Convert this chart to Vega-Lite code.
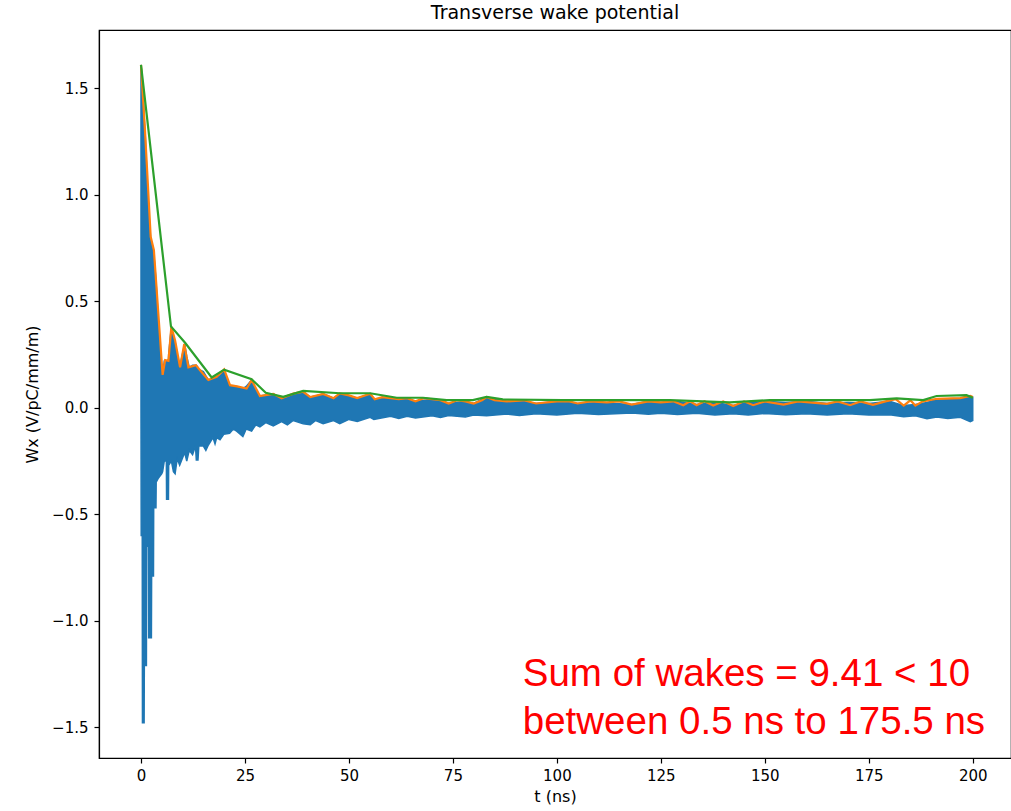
{
  "$schema": "https://vega.github.io/schema/vega-lite/v6.json",
  "width": 912,
  "height": 728,
  "autosize": "none",
  "padding": {"left": 99, "top": 30, "right": 0, "bottom": 53},
  "background": "white",
  "title": {"text": "Transverse wake potential", "font": "DejaVu Sans", "fontSize": 19, "fontWeight": "normal", "color": "black", "offset": 7},
  "datasets": {
    "blue": [
      {"t": 0.0, "hi": 1.61, "lo": 0.0},
      {"t": 0.05, "hi": 1.6, "lo": -0.6},
      {"t": 0.3, "hi": 1.55, "lo": -0.6},
      {"t": 0.35, "hi": 1.52, "lo": -1.48},
      {"t": 0.75, "hi": 1.38, "lo": -1.48},
      {"t": 0.8, "hi": 1.35, "lo": -1.21},
      {"t": 1.0, "hi": 1.29, "lo": -1.21},
      {"t": 1.3, "hi": 1.15, "lo": -1.21},
      {"t": 1.35, "hi": 1.12, "lo": -0.65},
      {"t": 1.8, "hi": 0.95, "lo": -0.65},
      {"t": 1.85, "hi": 0.93, "lo": -1.08},
      {"t": 2.3, "hi": 0.8, "lo": -1.08},
      {"t": 2.5, "hi": 0.78, "lo": -1.08},
      {"t": 2.55, "hi": 0.77, "lo": -0.79},
      {"t": 3.0, "hi": 0.74, "lo": -0.79},
      {"t": 3.05, "hi": 0.73, "lo": -0.47},
      {"t": 3.6, "hi": 0.6, "lo": -0.47},
      {"t": 3.65, "hi": 0.58, "lo": -0.35},
      {"t": 4.2, "hi": 0.4, "lo": -0.33},
      {"t": 5.0, "hi": 0.16, "lo": -0.31},
      {"t": 5.2, "hi": 0.15, "lo": -0.3},
      {"t": 5.6, "hi": 0.22, "lo": -0.25},
      {"t": 6.1, "hi": 0.22, "lo": -0.25},
      {"t": 6.15, "hi": 0.22, "lo": -0.43},
      {"t": 6.6, "hi": 0.22, "lo": -0.43},
      {"t": 6.65, "hi": 0.25, "lo": -0.27},
      {"t": 7.3, "hi": 0.38, "lo": -0.25},
      {"t": 7.8, "hi": 0.33, "lo": -0.3},
      {"t": 8.2, "hi": 0.31, "lo": -0.31},
      {"t": 8.7, "hi": 0.25, "lo": -0.24},
      {"t": 9.3, "hi": 0.19, "lo": -0.27},
      {"t": 10.5, "hi": 0.3, "lo": -0.21},
      {"t": 11.0, "hi": 0.24, "lo": -0.25},
      {"t": 11.6, "hi": 0.19, "lo": -0.2},
      {"t": 12.4, "hi": 0.2, "lo": -0.22},
      {"t": 13.1, "hi": 0.2, "lo": -0.18},
      {"t": 13.3, "hi": 0.2, "lo": -0.245},
      {"t": 13.7, "hi": 0.19, "lo": -0.245},
      {"t": 13.9, "hi": 0.18, "lo": -0.18},
      {"t": 15.0, "hi": 0.17, "lo": -0.18},
      {"t": 15.6, "hi": 0.15, "lo": -0.2},
      {"t": 16.2, "hi": 0.13, "lo": -0.175},
      {"t": 17.3, "hi": 0.14, "lo": -0.14},
      {"t": 17.8, "hi": 0.14, "lo": -0.17},
      {"t": 18.2, "hi": 0.145, "lo": -0.14},
      {"t": 19.0, "hi": 0.15, "lo": -0.15},
      {"t": 19.9, "hi": 0.17, "lo": -0.125},
      {"t": 21.3, "hi": 0.105, "lo": -0.12},
      {"t": 22.2, "hi": 0.1, "lo": -0.1},
      {"t": 23.0, "hi": 0.1, "lo": -0.11},
      {"t": 24.5, "hi": 0.09, "lo": -0.135},
      {"t": 25.3, "hi": 0.1, "lo": -0.1},
      {"t": 26.6, "hi": 0.13, "lo": -0.11},
      {"t": 27.6, "hi": 0.08, "lo": -0.08},
      {"t": 28.6, "hi": 0.055, "lo": -0.09},
      {"t": 30.0, "hi": 0.06, "lo": -0.07},
      {"t": 31.8, "hi": 0.065, "lo": -0.085},
      {"t": 33.8, "hi": 0.044, "lo": -0.065},
      {"t": 35.2, "hi": 0.05, "lo": -0.08},
      {"t": 36.6, "hi": 0.066, "lo": -0.06},
      {"t": 39.0, "hi": 0.075, "lo": -0.075},
      {"t": 40.7, "hi": 0.05, "lo": -0.08},
      {"t": 42.0, "hi": 0.055, "lo": -0.06},
      {"t": 43.8, "hi": 0.065, "lo": -0.075},
      {"t": 46.3, "hi": 0.045, "lo": -0.06},
      {"t": 47.8, "hi": 0.065, "lo": -0.075},
      {"t": 50, "hi": 0.055, "lo": -0.055},
      {"t": 52, "hi": 0.045, "lo": -0.065},
      {"t": 55.1, "hi": 0.065, "lo": -0.045},
      {"t": 56, "hi": 0.04, "lo": -0.055},
      {"t": 60, "hi": 0.045, "lo": -0.04},
      {"t": 62, "hi": 0.04, "lo": -0.05},
      {"t": 64, "hi": 0.045, "lo": -0.04},
      {"t": 66, "hi": 0.03, "lo": -0.048},
      {"t": 70, "hi": 0.04, "lo": -0.038},
      {"t": 72, "hi": 0.035, "lo": -0.046},
      {"t": 74, "hi": 0.02, "lo": -0.036},
      {"t": 78, "hi": 0.03, "lo": -0.044},
      {"t": 80, "hi": 0.02, "lo": -0.034},
      {"t": 83.1, "hi": 0.05, "lo": -0.038},
      {"t": 88, "hi": 0.03, "lo": -0.03},
      {"t": 91, "hi": 0.035, "lo": -0.036},
      {"t": 95, "hi": 0.02, "lo": -0.028},
      {"t": 100, "hi": 0.03, "lo": -0.034},
      {"t": 105, "hi": 0.02, "lo": -0.026},
      {"t": 110, "hi": 0.025, "lo": -0.032},
      {"t": 118, "hi": 0.015, "lo": -0.025},
      {"t": 122, "hi": 0.03, "lo": -0.031},
      {"t": 125, "hi": 0.025, "lo": -0.026},
      {"t": 129, "hi": 0.03, "lo": -0.032},
      {"t": 133.6, "hi": 0.015, "lo": -0.026},
      {"t": 138, "hi": 0.025, "lo": -0.034},
      {"t": 142.4, "hi": 0.01, "lo": -0.028},
      {"t": 146, "hi": 0.025, "lo": -0.034},
      {"t": 150, "hi": 0.03, "lo": -0.027},
      {"t": 155, "hi": 0.025, "lo": -0.033},
      {"t": 160, "hi": 0.03, "lo": -0.028},
      {"t": 165, "hi": 0.02, "lo": -0.034},
      {"t": 170, "hi": 0.025, "lo": -0.028},
      {"t": 175, "hi": 0.02, "lo": -0.034},
      {"t": 180, "hi": 0.03, "lo": -0.033},
      {"t": 183.4, "hi": 0.01, "lo": -0.042},
      {"t": 186.2, "hi": 0.015, "lo": -0.038},
      {"t": 189, "hi": 0.025, "lo": -0.052},
      {"t": 191.4, "hi": 0.04, "lo": -0.044},
      {"t": 194, "hi": 0.042, "lo": -0.05},
      {"t": 197, "hi": 0.045, "lo": -0.045},
      {"t": 199.4, "hi": 0.055, "lo": -0.066},
      {"t": 200, "hi": 0.05, "lo": -0.06}
    ],
    "orange": [
      {"t": 0.0, "y": 1.61},
      {"t": 0.96, "y": 1.3},
      {"t": 2.33, "y": 0.803},
      {"t": 3.1, "y": 0.74},
      {"t": 5.2, "y": 0.154},
      {"t": 5.8, "y": 0.224},
      {"t": 6.6, "y": 0.22},
      {"t": 7.3, "y": 0.38},
      {"t": 8.2, "y": 0.316},
      {"t": 9.4, "y": 0.19},
      {"t": 10.4, "y": 0.3},
      {"t": 11.4, "y": 0.19},
      {"t": 13.2, "y": 0.2},
      {"t": 14.2, "y": 0.176},
      {"t": 16.2, "y": 0.13},
      {"t": 18.2, "y": 0.145},
      {"t": 20.0, "y": 0.18},
      {"t": 21.4, "y": 0.106},
      {"t": 23.1, "y": 0.1},
      {"t": 25.4, "y": 0.09},
      {"t": 26.6, "y": 0.13},
      {"t": 28.6, "y": 0.055},
      {"t": 31.8, "y": 0.065},
      {"t": 33.8, "y": 0.044},
      {"t": 36.6, "y": 0.066},
      {"t": 39.0, "y": 0.075},
      {"t": 40.7, "y": 0.05},
      {"t": 43.8, "y": 0.065},
      {"t": 46.3, "y": 0.045},
      {"t": 47.8, "y": 0.067},
      {"t": 50, "y": 0.058},
      {"t": 52, "y": 0.045},
      {"t": 55.1, "y": 0.066},
      {"t": 56.2, "y": 0.04},
      {"t": 58, "y": 0.05},
      {"t": 60, "y": 0.045},
      {"t": 62, "y": 0.04},
      {"t": 64, "y": 0.045},
      {"t": 66, "y": 0.03},
      {"t": 68, "y": 0.045},
      {"t": 70, "y": 0.04},
      {"t": 72, "y": 0.035},
      {"t": 74, "y": 0.02},
      {"t": 76, "y": 0.035},
      {"t": 78, "y": 0.03},
      {"t": 80, "y": 0.02},
      {"t": 82, "y": 0.035},
      {"t": 83.1, "y": 0.05},
      {"t": 85, "y": 0.035},
      {"t": 88, "y": 0.03},
      {"t": 92, "y": 0.035},
      {"t": 95, "y": 0.02},
      {"t": 100, "y": 0.03},
      {"t": 103, "y": 0.03},
      {"t": 105, "y": 0.02},
      {"t": 108, "y": 0.03},
      {"t": 112, "y": 0.025},
      {"t": 115, "y": 0.03},
      {"t": 118, "y": 0.015},
      {"t": 122, "y": 0.03},
      {"t": 125, "y": 0.025},
      {"t": 128, "y": 0.03},
      {"t": 130.4, "y": 0.012},
      {"t": 132, "y": 0.03},
      {"t": 133.6, "y": 0.012},
      {"t": 135.5, "y": 0.03},
      {"t": 137.6, "y": 0.01},
      {"t": 140, "y": 0.03},
      {"t": 142.4, "y": 0.008},
      {"t": 145, "y": 0.03},
      {"t": 147.2, "y": 0.012},
      {"t": 150, "y": 0.03},
      {"t": 154.5, "y": 0.015},
      {"t": 158, "y": 0.03},
      {"t": 164.9, "y": 0.018},
      {"t": 167.5, "y": 0.03},
      {"t": 170.5, "y": 0.012},
      {"t": 173, "y": 0.03},
      {"t": 176, "y": 0.014},
      {"t": 179, "y": 0.03},
      {"t": 181.5, "y": 0.04},
      {"t": 183.4, "y": 0.01},
      {"t": 185, "y": 0.035},
      {"t": 186.2, "y": 0.01},
      {"t": 188, "y": 0.03},
      {"t": 191.4, "y": 0.042},
      {"t": 197, "y": 0.045},
      {"t": 199.4, "y": 0.056},
      {"t": 200, "y": 0.05}
    ],
    "green": [
      {"t": 0.0, "y": 1.61},
      {"t": 7.2, "y": 0.382},
      {"t": 10.6, "y": 0.305},
      {"t": 17.0, "y": 0.142},
      {"t": 20.0, "y": 0.179},
      {"t": 26.6, "y": 0.134},
      {"t": 30.0, "y": 0.07},
      {"t": 34.2, "y": 0.051},
      {"t": 39.0, "y": 0.079},
      {"t": 47.8, "y": 0.068},
      {"t": 55.1, "y": 0.068},
      {"t": 61.5, "y": 0.047},
      {"t": 67.8, "y": 0.047},
      {"t": 73.5, "y": 0.036},
      {"t": 79.8, "y": 0.036},
      {"t": 83.1, "y": 0.051},
      {"t": 87.0, "y": 0.039},
      {"t": 101.5, "y": 0.036},
      {"t": 127.2, "y": 0.036},
      {"t": 141.6, "y": 0.025},
      {"t": 151.2, "y": 0.036},
      {"t": 175.3, "y": 0.036},
      {"t": 181.7, "y": 0.044},
      {"t": 188.1, "y": 0.036},
      {"t": 191.3, "y": 0.055},
      {"t": 198.5, "y": 0.059},
      {"t": 200.0, "y": 0.047}
    ],
    "notes": [
      {"t": 91.8, "y": -1.307, "label": "Sum of wakes = 9.41 < 10"},
      {"t": 91.8, "y": -1.533, "label": "between 0.5 ns to 175.5 ns"}
    ]
  },
  "encoding": {
    "x": {
      "field": "t", "type": "quantitative",
      "scale": {"domain": [-10.1, 209.2], "nice": false, "zero": false},
      "axis": {"values": [0, 25, 50, 75, 100, 125, 150, 175, 200], "format": "d", "title": "t (ns)", "titlePadding": 5, "labelPadding": 5}
    }
  },
  "layer": [
    {
      "data": {"name": "blue"},
      "mark": {"type": "area", "color": "#1f77b4", "opacity": 1, "stroke": "#1f77b4", "strokeWidth": 1.5},
      "encoding": {
        "y": {
          "field": "hi", "type": "quantitative",
          "scale": {"domain": [-1.645, 1.774], "nice": false, "zero": false},
          "axis": {"values": [-1.5, -1.0, -0.5, 0.0, 0.5, 1.0, 1.5], "labelExpr": "replace(format(datum.value, '.1f'), '-', '\u2212')", "title": "Wx (V/pC/mm/m)", "titlePadding": 11, "labelPadding": 6}
        },
        "y2": {"field": "lo"}
      }
    },
    {
      "data": {"name": "orange"},
      "mark": {"type": "line", "color": "#ff7f0e", "strokeWidth": 2.2},
      "encoding": {"y": {"field": "y", "type": "quantitative"}}
    },
    {
      "data": {"name": "green"},
      "mark": {"type": "line", "color": "#2ca02c", "strokeWidth": 2.2},
      "encoding": {"y": {"field": "y", "type": "quantitative"}}
    },
    {
      "data": {"name": "notes"},
      "mark": {"type": "text", "color": "#ff0000", "font": "Liberation Sans", "fontSize": 38.5, "align": "left", "baseline": "alphabetic"},
      "encoding": {
        "y": {"field": "y", "type": "quantitative"},
        "text": {"field": "label"}
      }
    }
  ],
  "config": {
    "view": {"stroke": "black", "strokeWidth": 1.2},
    "axis": {
      "grid": false,
      "domainColor": "black",
      "domainWidth": 1.2,
      "tickColor": "black",
      "tickSize": 5,
      "tickWidth": 1.2,
      "labelColor": "black",
      "titleColor": "black",
      "labelFont": "DejaVu Sans",
      "titleFont": "DejaVu Sans",
      "labelFontSize": 15,
      "titleFontSize": 16,
      "titleFontWeight": "normal"
    }
  }
}
